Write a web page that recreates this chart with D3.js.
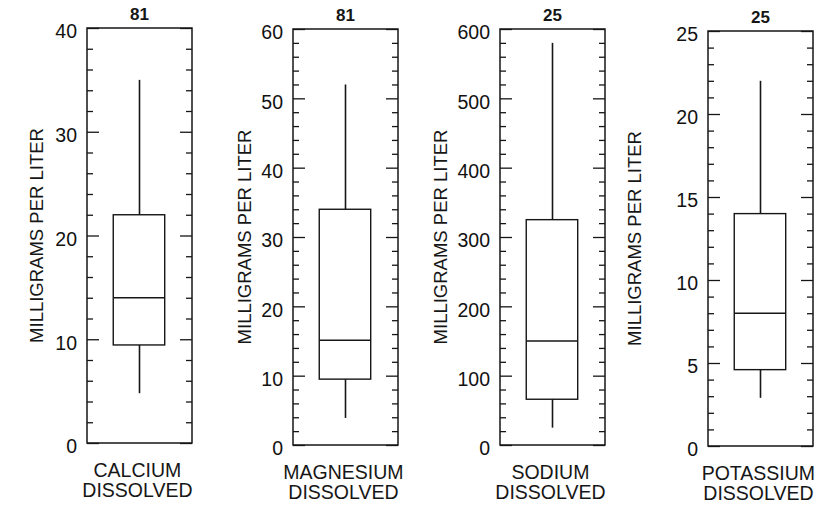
<!DOCTYPE html>
<html>
<head>
<meta charset="utf-8">
<style>
  body { margin: 0; background: #fff; }
  svg { display: block; font-family: "Liberation Sans", Arial, Helvetica, sans-serif; }
  .tick text { fill: #111; }
</style>
</head>
<body>
<div id="chart"></div>
<script src="https://d3js.org/d3.v7.min.js"></script>
<script>
// values (milligrams per liter)
const constituents = ['CALCIUM', 'MAGNESIUM', 'SODIUM', 'POTASSIUM'];
const subtitle = 'DISSOLVED';
const sampleCounts = [81, 81, 25, 25];
const axisMax = [40, 60, 600, 25];
const majorStep = [10, 10, 100, 5];
const minorStep = [2, 2, 20, 1];
const whiskerLow = [4.8, 3.9, 25, 2.9];
const quartile1 = [9.45, 9.5, 66, 4.6];
const medians = [14, 15.1, 150, 8];
const quartile3 = [22, 34, 325, 14];
const whiskerHigh = [35, 52, 580, 22];

// layout of each panel frame
const frameLeft = [87, 293, 500, 708];
const frameTop = [28, 29, 29, 31];
const frameBottom = [443, 445, 445, 446];
const frameWidth = 105;
const yLabelX = [43, 251, 447, 641];

const width = 832, height = 508;
const ink = '#161616';

const svg = d3.select('#chart').append('svg')
  .attr('width', width)
  .attr('height', height);

constituents.forEach((name, i) => {
  const left = frameLeft[i], right = left + frameWidth;
  const y = d3.scaleLinear()
    .domain([0, axisMax[i]])
    .range([frameBottom[i], frameTop[i]]);
  const x = d3.scaleLinear().domain([0, 1]).range([left, right]);

  const majors = d3.range(0, axisMax[i] + majorStep[i] / 2, majorStep[i]);
  const minors = d3.range(0, axisMax[i] + minorStep[i] / 2, minorStep[i])
    .filter(v => majors.every(m => Math.abs(m - v) > 1e-9));

  const g = svg.append('g');

  // minor ticks, both sides, pointing inward
  const minorLeft = g.append('g')
    .attr('transform', `translate(${left},0)`)
    .call(d3.axisLeft(y).tickValues(minors).tickSizeInner(-6).tickSizeOuter(0).tickFormat(''));
  const minorRight = g.append('g')
    .attr('transform', `translate(${right},0)`)
    .call(d3.axisRight(y).tickValues(minors).tickSizeInner(-6).tickSizeOuter(0).tickFormat(''));

  // major ticks with labels on the left
  const majorLeft = g.append('g')
    .attr('transform', `translate(${left},0)`)
    .call(d3.axisLeft(y).tickValues(majors).tickSizeInner(-12).tickSizeOuter(0).tickPadding(10));
  const majorRight = g.append('g')
    .attr('transform', `translate(${right},0)`)
    .call(d3.axisRight(y).tickValues(majors).tickSizeInner(-12).tickSizeOuter(0).tickFormat(''));

  [minorLeft, minorRight, majorLeft, majorRight].forEach(a => {
    a.select('.domain').remove();
    a.selectAll('line').attr('stroke', ink).attr('stroke-width', 1.3);
  });
  majorLeft.selectAll('text')
    .attr('font-size', 19.5)
    .attr('dy', '0.5em')
    .attr('font-family', '"Liberation Sans", Arial, sans-serif');

  // frame
  g.append('rect')
    .attr('x', left)
    .attr('y', y(axisMax[i]))
    .attr('width', frameWidth)
    .attr('height', y(0) - y(axisMax[i]))
    .attr('fill', 'none')
    .attr('stroke', ink)
    .attr('stroke-width', 1.5);

  // whiskers
  g.append('line')
    .attr('x1', x(0.5)).attr('x2', x(0.5))
    .attr('y1', y(quartile3[i])).attr('y2', y(whiskerHigh[i]))
    .attr('stroke', ink).attr('stroke-width', 1.6);
  g.append('line')
    .attr('x1', x(0.5)).attr('x2', x(0.5))
    .attr('y1', y(quartile1[i])).attr('y2', y(whiskerLow[i]))
    .attr('stroke', ink).attr('stroke-width', 1.6);

  // box
  g.append('rect')
    .attr('x', x(0.25))
    .attr('y', y(quartile3[i]))
    .attr('width', x(0.74) - x(0.25))
    .attr('height', y(quartile1[i]) - y(quartile3[i]))
    .attr('fill', 'none')
    .attr('stroke', ink)
    .attr('stroke-width', 1.4);
  g.append('line')
    .attr('x1', x(0.25)).attr('x2', x(0.74))
    .attr('y1', y(medians[i])).attr('y2', y(medians[i]))
    .attr('stroke', ink).attr('stroke-width', 1.4);

  // sample count
  g.append('text')
    .attr('x', x(0.5))
    .attr('y', y(axisMax[i]) - 8)
    .attr('text-anchor', 'middle')
    .attr('font-size', 17)
    .attr('font-weight', 'bold')
    .attr('fill', ink)
    .text(sampleCounts[i]);

  // y axis title
  g.append('text')
    .attr('transform', `translate(${yLabelX[i]},${(y(0) + y(axisMax[i])) / 2}) rotate(-90)`)
    .attr('text-anchor', 'middle')
    .attr('font-size', 18.5)
    .attr('fill', ink)
    .text('MILLIGRAMS PER LITER');

  // constituent labels
  g.append('text')
    .attr('x', x(0.48))
    .attr('y', y(0) + 34)
    .attr('text-anchor', 'middle')
    .attr('font-size', 19.5)
    .attr('fill', ink)
    .text(name);
  g.append('text')
    .attr('x', x(0.48))
    .attr('y', y(0) + 54)
    .attr('text-anchor', 'middle')
    .attr('font-size', 19.5)
    .attr('fill', ink)
    .text(subtitle);
});
</script>
</body>
</html>
